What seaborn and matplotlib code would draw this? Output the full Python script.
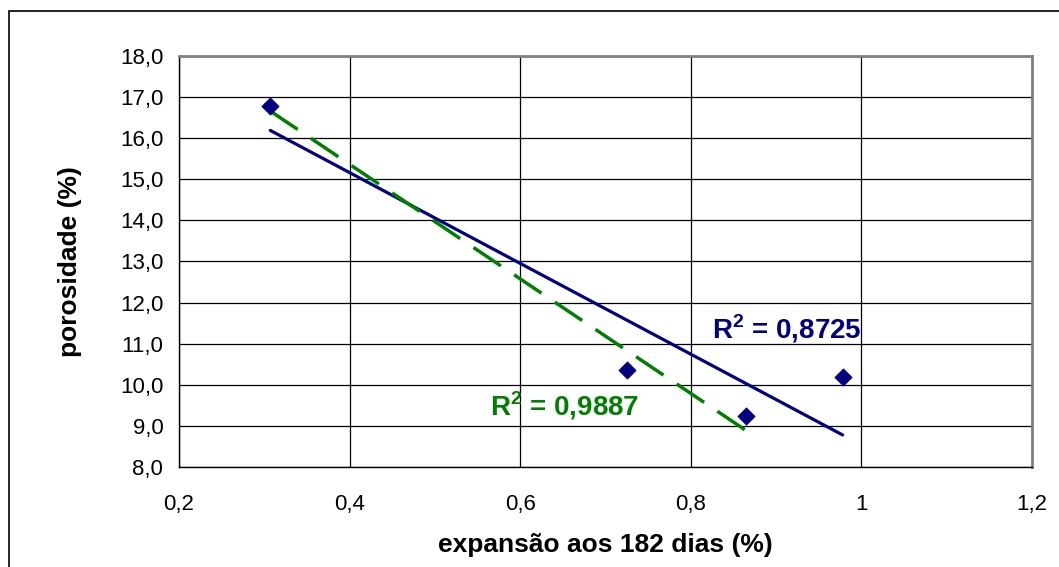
import matplotlib
matplotlib.use("Agg")
import matplotlib.pyplot as plt
import seaborn as sns
import numpy as np
import pandas as pd
from matplotlib.ticker import FuncFormatter, MultipleLocator
from matplotlib.patches import Rectangle

expansao = [0.307, 0.725, 0.865, 0.978]
porosidade = [16.78, 10.36, 9.24, 10.19]
r2_all = r"R$^{\mathbf{2}}$ = 0,8725"
r2_sub = r"R$^{\mathbf{2}}$ = 0,9887"
xlabel = "expansão aos 182 dias (%)"
ylabel = "porosidade (%)"

df = pd.DataFrame({"x": expansao, "y": porosidade})
df_sub = df.iloc[:3]

sns.set_style("white")
plt.rcParams["font.family"] = ["Liberation Sans", "DejaVu Sans"]
plt.rcParams["mathtext.fontset"] = "custom"
plt.rcParams["mathtext.rm"] = "Liberation Sans"
plt.rcParams["mathtext.bf"] = "Liberation Sans:bold"
plt.rcParams["text.color"] = "black"
plt.rcParams["axes.labelcolor"] = "black"
plt.rcParams["xtick.color"] = "black"
plt.rcParams["ytick.color"] = "black"

W, H = 1059, 567
fig = plt.figure(figsize=(W / 100, H / 100), dpi=100)
L, R, T, B = 179, 1032, 56, 467
ax = fig.add_axes([L / W, 1 - B / H, (R - L) / W, (B - T) / H])

# outer border
fig.patches.append(Rectangle((9 / W, -0.02), 1.0, 1 - 11 / H + 0.02,
                             transform=fig.transFigure, fill=False, edgecolor="black",
                             linewidth=1.2, zorder=0))

ax.set_xlim(0.2, 1.2)
ax.set_ylim(8.0, 18.0)
ax.xaxis.set_major_locator(MultipleLocator(0.2))
ax.yaxis.set_major_locator(MultipleLocator(1.0))
ax.grid(True, color="black", linewidth=0.9)
ax.set_axisbelow(True)

sns.regplot(data=df, x="x", y="y", ax=ax, scatter=False, ci=None,
            line_kws=dict(color="#000080", linewidth=2.3, zorder=3))
sns.regplot(data=df_sub, x="x", y="y", ax=ax, scatter=False, ci=None,
            line_kws=dict(color="#008000", linewidth=2.5, linestyle=(0, (9.5, 4.6)), zorder=3))
sns.scatterplot(data=df, x="x", y="y", ax=ax, marker="D", s=75, color="#000080",
                edgecolor="#000080", zorder=4)

ax.text(0.825, 11.36, r2_all, color="#000080", fontsize=20, fontweight="bold",
        va="center", ha="left", zorder=5)
ax.text(0.5646, 9.48, r2_sub, color="#008000", fontsize=20, fontweight="bold",
        va="center", ha="left", zorder=5)

def fx(v, pos):
    s = f"{v:.1f}"
    if s.endswith(".0"):
        s = s[:-2]
    return s.replace(".", ",")

ax.xaxis.set_major_formatter(FuncFormatter(fx))
ax.yaxis.set_major_formatter(FuncFormatter(lambda v, p: f"{v:.1f}".replace(".", ",")))

ax.tick_params(axis="both", which="major", direction="out", length=4.3, width=1,
               color="black", labelsize=16, labelcolor="black")
ax.tick_params(axis="x", pad=15)
ax.tick_params(axis="y", pad=7)
ax.set_xlabel(xlabel, fontsize=19, fontweight="bold", labelpad=13)
ax.set_ylabel(ylabel, fontsize=19, fontweight="bold", labelpad=27)

for name, sp in ax.spines.items():
    sp.set_linewidth(1.0)
    sp.set_color("black")
ax.spines["top"].set_color("#808080")
ax.spines["right"].set_color("#808080")
ax.spines["top"].set_linewidth(2)
ax.spines["right"].set_linewidth(2)

fig.savefig("out.png", dpi=100)
